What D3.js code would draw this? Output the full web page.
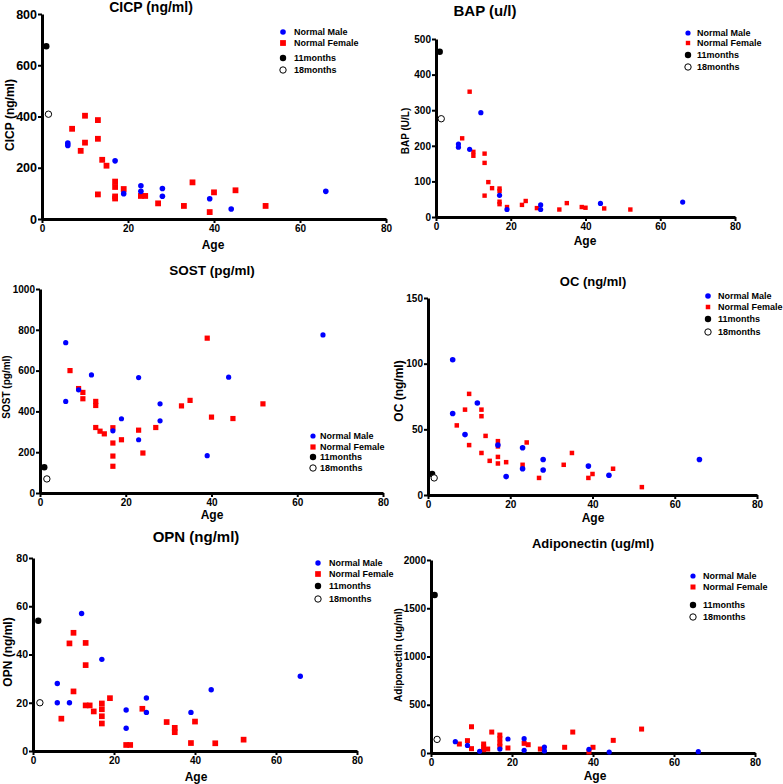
<!DOCTYPE html>
<html>
<head>
<meta charset="utf-8">
<script src="https://cdn.jsdelivr.net/npm/d3@7"></script>
<style>
  html, body { margin: 0; padding: 0; background: #fff; }
  svg text { font-family: "Liberation Sans", Arial, Helvetica, sans-serif; font-weight: bold; fill: #000; }
</style>
</head>
<body>
<svg id="chart" width="783" height="784"></svg>
<script>
// ---------- DATA: [age, value] ----------
const xTicks = [0, 20, 40, 60, 80];
const legendLabels = ["Normal Male", "Normal Female", "11months", "18months"];

const cicpMale = [[6,296],[6,287],[17,227],[19,99],[23,130],[23,108],[28,119],[28,89],[39,79],[44,39],[66,108]];
const cicpFemale = [[7,352],[10,403],[13,386],[10,298],[9,266],[13,313],[14,231],[15,208],[17,146],[17,125],[13,96],[17,88],[17,80],[19,117],[23,90],[24,90],[27,61],[33,51],[35,143],[39,27],[40,104],[45,112],[52,51]];
const cicp11 = [[1,674]];
const cicp18 = [[1.5,409]];
const cicpTicks = [0,200,400,600,800];

const bapMale = [[6,205],[6,196],[9,190],[12,293],[17,61],[19,21],[28,34],[28,21],[44,38],[66,42]];
const bapFemale = [[9,352],[7,221],[10,183],[10,172],[13,178],[13,152],[14,98],[15,81],[17,80],[17,73],[13,60],[17,43],[17,36],[19,28],[23,34],[24,45],[27,25],[33,21],[35,39],[39,28],[40,26],[45,24],[52,21]];
const bap11 = [[1,464]];
const bap18 = [[1.4,276]];
const bapTicks = [0,100,200,300,400,500];

const sostMale = [[6,737],[6,449],[9,506],[12,579],[17,305],[19,364],[23,566],[23,261],[28,437],[28,354],[39,183],[44,568],[66,775]];
const sostFemale = [[7,600],[9,512],[10,493],[10,462],[13,449],[13,429],[13,321],[14,303],[15,290],[17,320],[17,245],[17,181],[17,131],[19,261],[23,308],[24,196],[27,321],[33,427],[35,454],[39,759],[40,372],[45,365],[52,437]];
const sost11 = [[1,126]];
const sost18 = [[1.6,69]];
const sostTicks = [0,200,400,600,800,1000];

const ocMale = [[6,103],[6,62],[9,46],[12,70],[17,38],[19,14],[23,36],[23,20],[28,27],[28,19],[39,22],[44,15],[66,27]];
const ocFemale = [[7,53],[9,65],[10,77],[10,38],[13,65],[13,60],[13,32],[14,45],[15,26],[17,41],[17,37],[17,29],[17,24],[19,25],[23,23],[24,40],[27,13],[33,23],[35,32],[39,13],[40,16],[45,20],[52,6]];
const oc11 = [[1,16]];
const oc18 = [[1.5,13]];
const ocTicks = [0,50,100,150];

const opnMale = [[6,28],[6,20],[9,20],[12,57],[17,38],[23,17],[23,9.4],[28,22],[28,16],[39,16],[44,25.4],[66,31]];
const opnFemale = [[7,13.4],[9,44.6],[10,49],[10,24.7],[13,44.8],[13,35.6],[13,18.9],[14,18.9],[15,16.4],[17,19.7],[17,17.3],[17,14.4],[17,11.4],[19,21.9],[23,2.5],[24,2.5],[27,17.5],[33,12],[35,9.6],[35,7.8],[39,3.3],[40,12.2],[45,3.2],[52,4.7]];
const opn11 = [[1.3,54]];
const opn18 = [[1.7,20]];
const opnTicks = [0,20,40,60,80];

const adipMale = [[6,117],[9,79],[12,17],[17,41],[19,145],[23,148],[23,28],[28,62],[28,21],[39,38],[44,10],[66,14]];
const adipFemale = [[7,93],[9,128],[10,272],[10,45],[13,93],[13,62],[13,34],[14,41],[15,217],[17,186],[17,148],[17,103],[17,69],[19,52],[23,100],[24,86],[27,41],[33,59],[35,217],[39,10],[40,59],[45,131],[52,248]];
const adip11 = [[0.9,1638]];
const adip18 = [[1.5,141]];
const adipTicks = [0,500,1000,1500,2000];

// ---------- LAYOUT ----------
const panels = [
  { title: "CICP (ng/ml)", ylab: "CICP (ng/ml)", male: cicpMale, female: cicpFemale, m11: cicp11, m18: cicp18, yTicks: cicpTicks,
    xl: 42, xr: 386, yt: 14, yb: 219, tx: 151, ty: 12, tfs: 14, ylx: 10, yly: 115, ylfs: 12, ytfs: 12.5,
    ax: 213, ay: 249, lmx: 283, ltx: 294, lrows: [32,43,58,70], cr: 2.8, sq: 5.8 },
  { title: "BAP (u/l)", ylab: "BAP (U/L)", male: bapMale, female: bapFemale, m11: bap11, m18: bap18, yTicks: bapTicks,
    xl: 436, xr: 735, yt: 39, yb: 217, tx: 485, ty: 16, tfs: 15, ylx: 405, yly: 131, ylfs: 10, ytfs: 10,
    ax: 585, ay: 245, lmx: 688, ltx: 697, lrows: [33,43,55,67], cr: 2.6, sq: 4.4 },
  { title: "SOST (pg/ml)", ylab: "SOST (pg/ml)", male: sostMale, female: sostFemale, m11: sost11, m18: sost18, yTicks: sostTicks,
    xl: 40, xr: 383, yt: 289, yb: 493, tx: 212, ty: 275, tfs: 13.5, ylx: 6, yly: 387, ylfs: 10, ytfs: 10,
    ax: 212, ay: 519, lmx: 313, ltx: 320, lrows: [436,447,457,468], cr: 2.6, sq: 5.2 },
  { title: "OC (ng/ml)", ylab: "OC (ng/ml)", male: ocMale, female: ocFemale, m11: oc11, m18: oc18, yTicks: ocTicks,
    xl: 428, xr: 757, yt: 298, yb: 495, tx: 593, ty: 286, tfs: 13, ylx: 399, yly: 391, ylfs: 12, ytfs: 10,
    ax: 593, ay: 522, lmx: 708, ltx: 718, lrows: [296,307,319,332], cr: 2.8, sq: 4.5 },
  { title: "OPN (ng/ml)", ylab: "OPN (ng/ml)", male: opnMale, female: opnFemale, m11: opn11, m18: opn18, yTicks: opnTicks,
    xl: 33, xr: 357, yt: 558, yb: 751, tx: 196, ty: 542, tfs: 15, ylx: 8, yly: 652, ylfs: 12, ytfs: 10.5,
    ax: 196, ay: 781, lmx: 318, ltx: 329, lrows: [563,574,586,599], cr: 2.7, sq: 5.7 },
  { title: "Adiponectin (ug/ml)", ylab: "Adiponectin (ug/ml)", male: adipMale, female: adipFemale, m11: adip11, m18: adip18, yTicks: adipTicks,
    xl: 431, xr: 755, yt: 560, yb: 753, tx: 593, ty: 548, tfs: 13, ylx: 398, yly: 655, ylfs: 10, ytfs: 10,
    ax: 595, ay: 780, lmx: 693, ltx: 703, lrows: [576,587,605,617], cr: 2.6, sq: 5 }
];

const BLUE = "#0000ff", RED = "#ff0000";
const fmt = d3.format("d");
const svg = d3.select("#chart");
svg.append("rect").attr("width", 783).attr("height", 784).attr("fill", "#fff");

panels.forEach(p => {
  const g = svg.append("g");
  const x = d3.scaleLinear().domain([0, 80]).range([p.xl, p.xr]);
  const y = d3.scaleLinear().domain([0, d3.max(p.yTicks)]).range([p.yb, p.yt]);

  // axes
  const ya = g.append("g").attr("transform", `translate(${p.xl},0)`)
    .call(d3.axisLeft(y).tickValues(p.yTicks).tickFormat(fmt).tickSize(4).tickSizeOuter(0).tickPadding(1));
  const xa = g.append("g").attr("transform", `translate(0,${p.yb})`)
    .call(d3.axisBottom(x).tickValues(xTicks).tickFormat(fmt).tickSize(4).tickSizeOuter(0).tickPadding(2));
  [ya, xa].forEach(a => {
    a.select(".domain").attr("stroke", "#000").attr("stroke-width", 3);
    a.selectAll(".tick line").attr("stroke", "#000").attr("stroke-width", 2);
    a.selectAll("text").attr("font-family", null).attr("fill", "#000");
  });
  ya.selectAll("text").style("font-size", p.ytfs + "px");
  xa.selectAll("text").style("font-size", "10px");

  // titles
  g.append("text").attr("x", p.tx).attr("y", p.ty).attr("text-anchor", "middle")
    .style("font-size", p.tfs + "px").text(p.title);
  g.append("text").attr("x", p.ax).attr("y", p.ay).attr("text-anchor", "middle")
    .style("font-size", "12px").text("Age");
  g.append("text").attr("transform", `translate(${p.ylx + p.ylfs * 0.36},${p.yly}) rotate(-90)`)
    .attr("text-anchor", "middle").style("font-size", p.ylfs + "px").text(p.ylab);

  // points
  g.selectAll(".f").data(p.female).join("rect")
    .attr("x", d => x(d[0]) - p.sq / 2).attr("y", d => y(d[1]) - p.sq / 2)
    .attr("width", p.sq).attr("height", p.sq).attr("fill", RED);
  g.selectAll(".m").data(p.male).join("circle")
    .attr("cx", d => x(d[0])).attr("cy", d => y(d[1])).attr("r", p.cr).attr("fill", BLUE);
  g.selectAll(".a").data(p.m11).join("circle")
    .attr("cx", d => x(d[0])).attr("cy", d => y(d[1])).attr("r", 3.2).attr("fill", "#000");
  g.selectAll(".b").data(p.m18).join("circle")
    .attr("cx", d => x(d[0])).attr("cy", d => y(d[1])).attr("r", 3.2)
    .attr("fill", "#fff").attr("stroke", "#000").attr("stroke-width", 1);

  // legend
  const lg = g.append("g");
  const r = p.lrows;
  lg.append("circle").attr("cx", p.lmx).attr("cy", r[0]).attr("r", p.cr).attr("fill", BLUE);
  lg.append("rect").attr("x", p.lmx - p.sq / 2).attr("y", r[1] - p.sq / 2)
    .attr("width", p.sq).attr("height", p.sq).attr("fill", RED);
  lg.append("circle").attr("cx", p.lmx).attr("cy", r[2]).attr("r", 3.2).attr("fill", "#000");
  lg.append("circle").attr("cx", p.lmx).attr("cy", r[3]).attr("r", 3.2)
    .attr("fill", "#fff").attr("stroke", "#000").attr("stroke-width", 1);
  legendLabels.forEach((t, i) => {
    lg.append("text").attr("x", p.ltx).attr("y", r[i]).attr("dy", "0.35em")
      .style("font-size", "9px").text(t);
  });
});
</script>
</body>
</html>
